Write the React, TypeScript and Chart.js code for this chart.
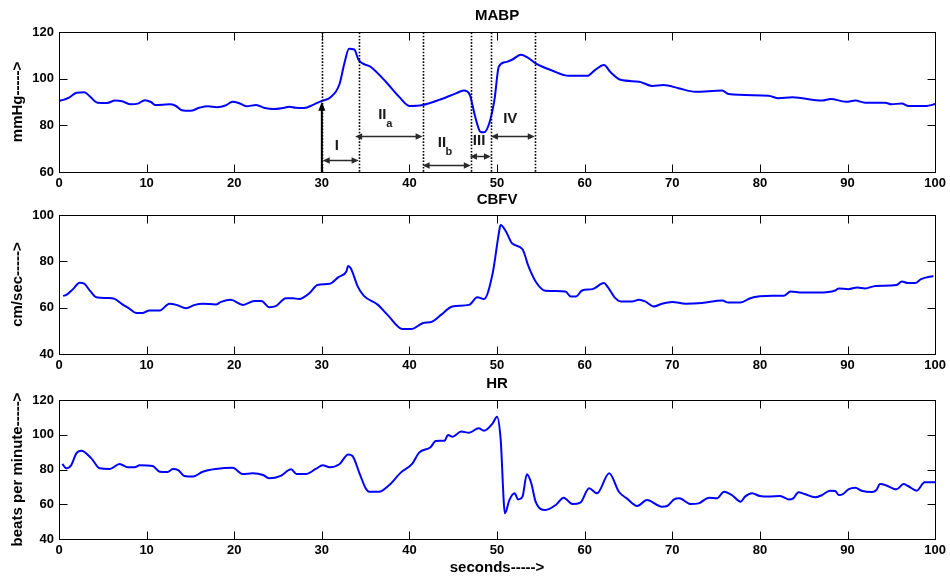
import React, { useEffect, useRef } from "react";
import { Chart, registerables } from "chart.js";

Chart.register(...registerables);

const FONT = '"Liberation Sans", Arial, Helvetica, sans-serif';
const W = 950;
const PLOT_LEFT = 59;
const PLOT_RIGHT = 937;

// ---------- data ----------
const mabpTime = [0, 0.5, 1.2, 2.0, 2.9, 3.5, 4.4, 5.5, 6.4, 7.2, 8.2, 9.0, 9.8, 10.5, 11.0, 12.6, 13.3, 14.0, 15.0, 16.0, 17.0, 18.0, 19.0, 19.8, 20.5, 21.4, 22.5, 23.5, 24.5, 25.5, 26.3, 27.0, 28.0, 29.0, 30.0, 31.0, 32.0, 32.6, 33.1, 33.7, 34.2, 35.6, 37.3, 38.8, 40.0, 41.5, 43.4, 45.3, 46.2, 46.9, 47.2, 47.6, 48.1, 48.5, 49.1, 49.7, 50.2, 51.0, 51.7, 52.7, 53.5, 54.4, 56.2, 58.2, 60.3, 61.2, 62.2, 62.9, 64.1, 66.2, 67.7, 69.0, 70.7, 72.6, 75.7, 76.4, 81.0, 82.1, 83.7, 87.1, 88.1, 89.8, 90.9, 92.0, 94.3, 95.0, 96.2, 96.9, 99.0, 100];
const mabpValues = [90.5, 90.9, 92, 94, 94.2, 92.5, 89.7, 89.6, 90.6, 90.3, 89.0, 89.3, 90.8, 90.0, 88.7, 89.0, 88.4, 86.5, 86.2, 87.5, 88.2, 87.8, 88.5, 90.1, 89.6, 88.2, 88.7, 87.4, 87.0, 87.4, 88.0, 87.5, 87.4, 88.8, 90.5, 92.0, 97.5, 107, 112.8, 112.5, 108, 105, 98.7, 92.3, 88.3, 88.7, 90.9, 93.7, 94.9, 93.0, 88.5, 82.3, 77.2, 77, 80.8, 90.9, 105.2, 107.1, 108.1, 110.2, 109, 106.6, 103.6, 101.2, 101.2, 103.8, 105.9, 103, 99.5, 98.7, 96.9, 97.3, 95.9, 94.4, 94.9, 93.4, 92.7, 91.6, 92, 90.6, 91.3, 90.1, 90.6, 89.7, 89.7, 89.0, 89.4, 88.3, 88.3, 89.1];

const cbfvTime = [0.46, 0.84, 1.6, 2.36, 2.9, 3.6, 4.26, 5.5, 6.35, 7.2, 8.06, 8.8, 9.57, 10.3, 11.5, 12.6, 13.4, 14.5, 15.5, 16.4, 17.9, 18.5, 19.6, 21.0, 22.3, 23.1, 24.0, 24.8, 25.9, 26.7, 27.4, 28.6, 29.5, 30.9, 31.9, 32.8, 33.0, 33.3, 34.1, 34.8, 36.4, 37.5, 39.2, 40.2, 41.5, 42.6, 43.6, 44.9, 46.8, 47.75, 48.5, 49.5, 50.2, 50.4, 51.0, 51.7, 52.9, 53.6, 54.4, 55.5, 57.8, 58.4, 59.0, 59.7, 60.9, 62.2, 62.6, 63.5, 64.1, 65.4, 66.2, 66.9, 67.9, 68.8, 70.0, 71.5, 73.4, 75.7, 76.4, 77.8, 78.9, 81.4, 82.7, 83.5, 84.8, 86.7, 88.6, 89.0, 90.1, 91.1, 92.0, 93.2, 95.6, 96.2, 96.9, 97.7, 98.4, 99.8];
const cbfvValues = [65.1, 65.5, 68, 70.8, 70.3, 67, 64.5, 64.2, 63.8, 61.5, 59.5, 57.7, 57.7, 58.8, 58.8, 61.7, 61.2, 59.8, 61.2, 61.7, 61.4, 62.5, 63.4, 61.2, 62.9, 62.9, 60.2, 60.8, 64.1, 64.1, 63.7, 66.3, 69.8, 70.3, 73.2, 75.6, 78.0, 77.0, 69.1, 65.1, 61.2, 56.9, 50.8, 50.8, 53.3, 54.0, 56.9, 60.5, 61.2, 64.5, 63.7, 74.9, 92.1, 95.7, 93, 87.8, 85.2, 77.7, 71.3, 67.3, 67.0, 64.8, 64.8, 67.4, 68.0, 70.6, 69.1, 64.1, 62.7, 62.7, 63.4, 62.7, 60.5, 61.7, 62.5, 61.7, 62.0, 63.1, 62.2, 62.2, 64.1, 65.1, 65.1, 67.0, 66.5, 66.5, 67.4, 68.3, 68.0, 68.7, 68.3, 69.4, 69.8, 71.3, 70.6, 70.6, 72.3, 73.7];

const hrTime = [0.38, 0.84, 1.41, 1.98, 2.55, 3.69, 4.64, 5.78, 6.92, 7.86, 8.63, 9.2, 10.7, 11.5, 12.4, 13.0, 13.6, 14.3, 15.3, 16.4, 17.9, 19.8, 21.0, 22.1, 23.3, 24.0, 25.3, 26.5, 27.1, 28.2, 29.3, 30.1, 30.9, 32.0, 33.0, 33.5, 34.3, 35.0, 35.4, 36.5, 37.7, 39.0, 40.3, 41.1, 42.4, 43.0, 44.0, 44.4, 44.9, 45.9, 46.8, 47.9, 48.5, 49.5, 50.0, 50.4, 50.9, 51.4, 52.0, 52.4, 52.9, 53.4, 53.9, 54.4, 55.5, 56.7, 57.6, 58.6, 59.5, 60.5, 61.4, 62.8, 63.9, 64.8, 66.0, 67.1, 68.8, 69.4, 70.2, 70.8, 72.1, 73.0, 74.2, 75.1, 75.9, 76.8, 77.8, 78.3, 79.1, 80.0, 81.0, 82.3, 83.3, 83.8, 84.4, 85.1, 86.3, 87.1, 88.0, 88.6, 89.0, 89.5, 90.1, 90.9, 91.6, 92.8, 93.3, 93.7, 94.3, 95.3, 95.6, 96.4, 96.9, 97.9, 98.8, 100];
const hrValues = [83.2, 80.7, 82.6, 89.3, 90.8, 86.4, 80.7, 80.3, 83.2, 81.3, 81.3, 82.4, 82.0, 78.7, 78.6, 80.3, 79.7, 76.3, 75.9, 78.7, 80.3, 81.0, 77.4, 77.8, 76.8, 74.9, 76.3, 80.1, 77.4, 77.4, 80.3, 82.4, 81.3, 83.0, 88.7, 87.8, 77.8, 69.2, 67.2, 67.2, 71.1, 78.2, 83.2, 89.7, 92.8, 96.4, 96.6, 99.9, 98.9, 101.8, 101.2, 103.7, 102.3, 106.6, 110.4, 98, 54.8, 62.4, 66.3, 62.8, 64.4, 77.2, 72.1, 61.5, 56.7, 59.6, 63.8, 60.1, 60.9, 69.2, 66.3, 77.8, 67.2, 63.4, 59.0, 62.4, 58.6, 59.0, 62.8, 63.4, 60.1, 60.5, 63.8, 63.4, 67.2, 65.3, 61.5, 64.4, 66.3, 64.7, 64.4, 64.7, 62.8, 63.4, 66.9, 65.9, 64.0, 65.3, 67.8, 67.6, 65.3, 65.9, 68.6, 69.5, 67.8, 67.0, 68.2, 71.6, 71.1, 68.8, 68.6, 71.6, 70.5, 67.8, 72.6, 72.6];

// phase annotations on the MABP panel
const phaseLines = [30, 34.2, 41.5, 47, 49.3, 54.3];
const phaseArrowFrom = [30.1, 33.8, 41.5, 46.9, 49.3];
const phaseArrowTo = [34.2, 41.5, 47, 49.3, 54.3];
const phaseArrowY = [65.3, 75.4, 62.9, 66.8, 75.4];
const phaseLabels = ["I", "II", "II", "III", "IV"];
const phaseSubs = ["", "a", "b", "", ""];
const phaseLabelX = [31.7, 36.9, 43.7, 47.95, 51.5];
const phaseLabelY = [71.3, 84.4, 72.4, 73.5, 82.8];
const onsetX = 30;
const onsetTop = 90.1;

type Panel = {
  top: number;
  height: number;
  plotTop: number;
  plotBottom: number;
  title: string;
  titleY: number;
  yLabel: string;
  yMin: number;
  yMax: number;
  xs: number[];
  ys: number[];
  phases?: boolean;
  xLabel?: string;
  xLabelY?: number;
};

function head(ctx: CanvasRenderingContext2D, x: number, y: number, dx: number, dy: number, len: number, half: number) {
  const bx = x - dx * len;
  const by = y - dy * len;
  ctx.beginPath();
  ctx.moveTo(x, y);
  ctx.lineTo(bx - dy * half, by + dx * half);
  ctx.lineTo(bx + dy * half, by - dx * half);
  ctx.closePath();
  ctx.fill();
}

function PanelChart({ p }: { p: Panel }) {
  const ref = useRef<HTMLCanvasElement>(null);
  useEffect(() => {
    const canvas = ref.current!;
    const overlay = {
      id: "overlay",
      afterDraw(chart: any) {
        const ctx: CanvasRenderingContext2D = chart.ctx;
        const a = chart.chartArea;
        const xs = chart.scales.x;
        const ys = chart.scales.y;
        const L = Math.round(a.left) + 0.5;
        const R = Math.round(a.right) + 0.5;
        const T = Math.round(a.top) + 0.5;
        const B = Math.round(a.bottom) + 0.5;
        ctx.save();
        if (p.phases) {
          ctx.strokeStyle = "#000";
          ctx.lineWidth = 1.6;
          ctx.setLineDash([1.6, 1.6]);
          phaseLines.forEach((v) => {
            const x = Math.round(xs.getPixelForValue(v)) + 0.5;
            ctx.beginPath();
            ctx.moveTo(x, T);
            ctx.lineTo(x, B);
            ctx.stroke();
          });
          ctx.setLineDash([]);
          ctx.fillStyle = "#000";
          ctx.strokeStyle = "#000";
          ctx.lineWidth = 2;
          const ox = xs.getPixelForValue(onsetX);
          const oy = ys.getPixelForValue(onsetTop);
          ctx.beginPath();
          ctx.moveTo(ox, B);
          ctx.lineTo(ox, oy + 6);
          ctx.stroke();
          head(ctx, ox, oy, 0, -1, 9, 3.5);
          ctx.strokeStyle = "#2a2a2a";
          ctx.fillStyle = "#2a2a2a";
          ctx.lineWidth = 1.5;
          phaseArrowFrom.forEach((f, i) => {
            const x1 = xs.getPixelForValue(f);
            const x2 = xs.getPixelForValue(phaseArrowTo[i]);
            const y = Math.round(ys.getPixelForValue(phaseArrowY[i])) + 0.5;
            ctx.beginPath();
            ctx.moveTo(x1 + 4, y);
            ctx.lineTo(x2 - 4, y);
            ctx.stroke();
            head(ctx, x1, y, -1, 0, 7, 3.2);
            head(ctx, x2, y, 1, 0, 7, 3.2);
          });
          ctx.fillStyle = "#1a1a1a";
          ctx.textAlign = "center";
          ctx.textBaseline = "middle";
          phaseLabels.forEach((t, i) => {
            const x = xs.getPixelForValue(phaseLabelX[i]);
            const y = ys.getPixelForValue(phaseLabelY[i]);
            ctx.font = `bold 15px ${FONT}`;
            ctx.fillText(t, x, y);
            if (phaseSubs[i]) {
              ctx.font = `bold 11px ${FONT}`;
              ctx.fillText(phaseSubs[i], x + 7, y + 8.5);
            }
          });
        }
        // frame
        ctx.strokeStyle = "#000";
        ctx.lineWidth = 1;
        ctx.strokeRect(L, T, R - L, B - T);
        // inward ticks
        const TL = 8;
        ctx.beginPath();
        xs.ticks.forEach((t: any) => {
          const x = Math.round(xs.getPixelForValue(t.value)) + 0.5;
          ctx.moveTo(x, B);
          ctx.lineTo(x, B - TL);
          ctx.moveTo(x, T);
          ctx.lineTo(x, T + TL);
        });
        ys.ticks.forEach((t: any) => {
          const y = Math.round(ys.getPixelForValue(t.value)) + 0.5;
          ctx.moveTo(L, y);
          ctx.lineTo(L + TL, y);
          ctx.moveTo(R, y);
          ctx.lineTo(R - TL, y);
        });
        ctx.stroke();
        // title & axis labels
        ctx.fillStyle = "#000";
        ctx.textAlign = "center";
        ctx.textBaseline = "middle";
        ctx.font = `bold 15px ${FONT}`;
        const cx = (a.left + a.right) / 2;
        ctx.fillText(p.title, cx, p.titleY);
        if (p.xLabel) ctx.fillText(p.xLabel, cx, p.xLabelY!);
        ctx.save();
        ctx.translate(18, (a.top + a.bottom) / 2);
        ctx.rotate(-Math.PI / 2);
        ctx.fillText(p.yLabel, 0, 0);
        ctx.restore();
        ctx.restore();
      },
    };
    const tickFont = { family: FONT, size: 13, weight: "bold" as const };
    const chart = new Chart(canvas, {
      type: "line",
      data: {
        datasets: [
          {
            data: p.xs.map((x, i) => ({ x, y: p.ys[i] })),
            borderColor: "#0000ff",
            borderWidth: 2,
            pointRadius: 0,
            cubicInterpolationMode: "monotone",
            fill: false,
          },
        ],
      },
      options: {
        animation: false,
        responsive: false,
        maintainAspectRatio: false,
        devicePixelRatio: 1,
        events: [],
        layout: { padding: { left: 0, right: W - PLOT_RIGHT, top: p.plotTop, bottom: 0 } },
        plugins: { legend: { display: false }, tooltip: { enabled: false }, title: { display: false } },
        scales: {
          x: {
            type: "linear",
            min: 0,
            max: 100,
            grid: { display: false, drawTicks: false, tickLength: 0 },
            border: { display: false },
            ticks: { stepSize: 10, font: tickFont, color: "#000", padding: 4, maxRotation: 0, autoSkip: false },
            afterFit: (s: any) => {
              s.height = p.height - p.plotBottom;
            },
          },
          y: {
            type: "linear",
            min: p.yMin,
            max: p.yMax,
            grid: { display: false, drawTicks: false, tickLength: 0 },
            border: { display: false },
            ticks: { stepSize: 20, font: tickFont, color: "#000", padding: 5 },
            afterFit: (s: any) => {
              s.width = PLOT_LEFT;
            },
          },
        },
      } as any,
      plugins: [overlay],
    });
    return () => chart.destroy();
  }, [p]);
  return (
    <canvas
      ref={ref}
      width={W}
      height={p.height}
      style={{ position: "absolute", left: 0, top: p.top, width: W, height: p.height, display: "block" }}
    />
  );
}

const panels: Panel[] = [
  { top: 0, height: 192, plotTop: 32, plotBottom: 172, title: "MABP", titleY: 15.5, yLabel: "mmHg----->", yMin: 60, yMax: 120, xs: mabpTime, ys: mabpValues, phases: true },
  { top: 190, height: 182, plotTop: 25, plotBottom: 164, title: "CBFV", titleY: 9.5, yLabel: "cm/sec----->", yMin: 40, yMax: 100, xs: cbfvTime, ys: cbfvValues },
  { top: 370, height: 207, plotTop: 30, plotBottom: 169, title: "HR", titleY: 14, yLabel: "beats per minute----->", yMin: 40, yMax: 120, xs: hrTime, ys: hrValues, xLabel: "seconds----->", xLabelY: 197.5 },
];

export default function App() {
  return (
    <div style={{ position: "absolute", left: 0, top: 0, width: W, height: 577, background: "#fff", overflow: "hidden" }}>
      {panels.map((p, i) => (
        <PanelChart key={i} p={p} />
      ))}
    </div>
  );
}
